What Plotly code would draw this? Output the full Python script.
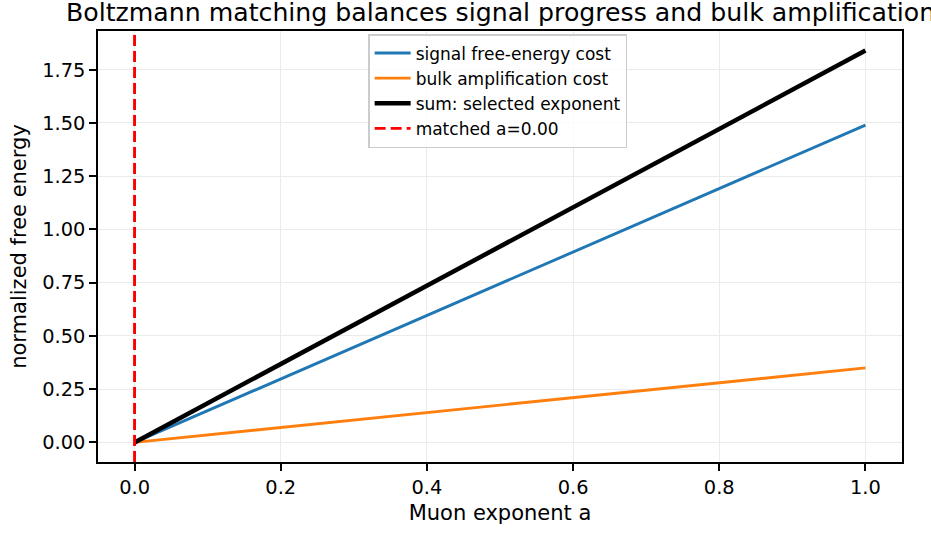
import plotly.graph_objects as go

a_vals = [0.0, 1.0]
signal_cost = [0.0, 1.49]
bulk_cost = [0.0, 0.35]
sum_cost = [0.0, 1.84]
matched_a = 0.0
y_range = [-0.092, 1.932]
x_range = [-0.05, 1.05]
x_ticks = [0.0, 0.2, 0.4, 0.6, 0.8, 1.0]
y_ticks = [0.0, 0.25, 0.5, 0.75, 1.0, 1.25, 1.5, 1.75]

fig = go.Figure()
fig.add_trace(go.Scatter(x=a_vals, y=signal_cost, mode="lines", name="signal free-energy cost",
                         line=dict(color="#1f77b4", width=2.9)))
fig.add_trace(go.Scatter(x=a_vals, y=bulk_cost, mode="lines", name="bulk amplification cost",
                         line=dict(color="#ff7f0e", width=2.9)))
fig.add_trace(go.Scatter(x=a_vals, y=sum_cost, mode="lines", name="sum: selected exponent",
                         line=dict(color="black", width=4.5)))
fig.add_trace(go.Scatter(x=[matched_a, matched_a], y=y_range, mode="lines",
                         name=f"matched a={matched_a:.2f}",
                         line=dict(color="red", width=2.9, dash="11px,5px")))

axis_common = dict(showline=True, linecolor="black", linewidth=1.5, mirror=True,
                   ticks="outside", ticklen=7, tickwidth=1.5, tickcolor="black",
                   showgrid=True, gridcolor="#ebebeb", gridwidth=1.2, zeroline=False,
                   automargin=False,
                   tickfont=dict(size=19.4, color="black"))

W, H = 931, 534
L, R, T, B = 98, 29, 31, 72

fig.update_layout(
    width=W, height=H,
    margin=dict(l=L, r=R, t=T, b=B),
    plot_bgcolor="white", paper_bgcolor="white",
    font=dict(family="DejaVu Sans", color="black"),
    title=dict(text="Boltzmann matching balances signal progress and bulk amplification",
               x=66 / W, xanchor="left", xref="container", y=1 - 3/H, yanchor="top",
               font=dict(size=25.2, color="black")),
    xaxis=dict(range=x_range, tickvals=x_ticks, ticktext=[f"{v:.1f}" for v in x_ticks],
               title=dict(text="Muon exponent a", font=dict(size=21), standoff=7), **axis_common),
    yaxis=dict(range=y_range, tickvals=y_ticks, ticktext=[f"{v:.2f}" for v in y_ticks],
               title=dict(text="normalized free energy", font=dict(size=21), standoff=10), **axis_common),
    legend=dict(x=0.336, y=0.993, xanchor="left", yanchor="top",
                bgcolor="rgba(255,255,255,0.8)", bordercolor="#cccccc", borderwidth=1.5,
                font=dict(size=17), tracegroupgap=0, itemwidth=36),
    showlegend=True,
)

fig.write_html("out.html", config={"displayModeBar": False},
               post_script="document.body.style.margin='0';")
